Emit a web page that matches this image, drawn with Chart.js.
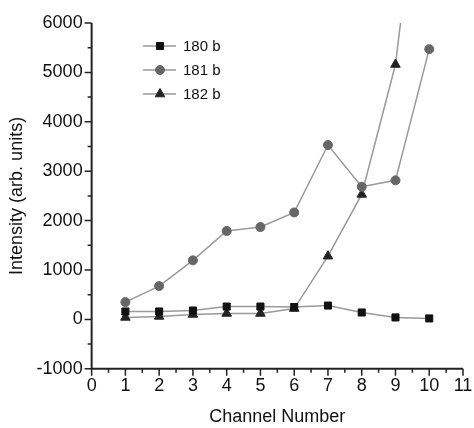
<!DOCTYPE html>
<html>
<head>
<meta charset="utf-8">
<script src="https://cdn.jsdelivr.net/npm/chart.js@4/dist/chart.umd.min.js"></script>
<style>
  html, body { margin: 0; padding: 0; background: #fff; }
  #wrap { width: 474px; height: 428px; }
</style>
</head>
<body>
<div id="wrap"><canvas id="chart"></canvas></div>
<script>
const channels = [1, 2, 3, 4, 5, 6, 7, 8, 9, 10];
const series180 = [160, 160, 180, 260, 260, 250, 280, 140, 40, 20];
const series181 = [350, 675, 1195, 1790, 1870, 2165, 3530, 2685, 2815, 5470];
const series182 = [40, 60, 100, 120, 120, 220, 1280, 2530, 5160, 10800];
const seriesLabels = ["180 b", "181 b", "182 b"];
const xTicks = [0, 1, 2, 3, 4, 5, 6, 7, 8, 9, 10, 11];
const yTicks = [-1000, 0, 1000, 2000, 3000, 4000, 5000, 6000];

const font = "'Liberation Sans', Arial, sans-serif";
const toPoints = values => values.map((y, i) => ({ x: channels[i], y }));

// axis lines + major/minor ticks drawn outward, plus the inset legend
const axesPlugin = {
  id: "axesPlugin",
  afterDraw(chart) {
    const { ctx, chartArea: area, scales: { x, y } } = chart;
    ctx.save();
    ctx.strokeStyle = "#222";
    ctx.lineWidth = 2;
    ctx.beginPath();
    ctx.moveTo(area.left, area.top);
    ctx.lineTo(area.left, area.bottom);
    ctx.lineTo(area.right, area.bottom);
    ctx.stroke();

    ctx.lineWidth = 1.5;
    ctx.beginPath();
    for (let v = -1000; v <= 6000; v += 500) {
      const py = y.getPixelForValue(v);
      const len = v % 1000 === 0 ? 7 : 4;
      ctx.moveTo(area.left, py);
      ctx.lineTo(area.left - len, py);
    }
    for (let v = 0; v <= 11; v += 0.5) {
      const px = x.getPixelForValue(v);
      const len = Number.isInteger(v) ? 7 : 4;
      ctx.moveTo(px, area.bottom);
      ctx.lineTo(px, area.bottom + len);
    }
    ctx.stroke();

    // legend
    chart.data.datasets.forEach((ds, i) => {
      const ly = 46 + i * 24;
      ctx.strokeStyle = ds.borderColor;
      ctx.lineWidth = 1.5;
      ctx.beginPath();
      ctx.moveTo(143, ly);
      ctx.lineTo(176, ly);
      ctx.stroke();
      ctx.fillStyle = ds.pointBackgroundColor;
      ctx.strokeStyle = ds.pointBorderColor;
      ctx.lineWidth = 1;
      Chart.helpers.drawPoint(ctx, {
        pointStyle: ds.pointStyle,
        radius: ds.pointRadius,
        borderWidth: 1
      }, 160, ly);
      ctx.fillStyle = "#111";
      ctx.font = "15px " + font;
      ctx.textBaseline = "middle";
      ctx.fillText(ds.label, 183, ly + 1);
    });
    ctx.restore();
  }
};

const makeSet = (label, values, style, color, radius) => ({
  label,
  data: toPoints(values),
  borderColor: "#999",
  borderWidth: 1.5,
  pointStyle: style,
  pointRadius: radius,
  pointBackgroundColor: color,
  pointBorderColor: color,
  pointBorderWidth: 1,
  tension: 0
});

new Chart(document.getElementById("chart"), {
  type: "line",
  data: {
    datasets: [
      makeSet(seriesLabels[0], series180, "rect", "#111", 5),
      makeSet(seriesLabels[1], series181, "circle", "#666", 4.5),
      makeSet(seriesLabels[2], series182, "triangle", "#222", 5.5)
    ]
  },
  options: {
    responsive: true,
    maintainAspectRatio: false,
    animation: false,
    layout: { padding: { top: 23, right: 0, left: 6, bottom: 0 } },
    plugins: { legend: { display: false }, tooltip: { enabled: false } },
    scales: {
      x: {
        type: "linear",
        min: 0,
        max: 11,
        afterBuildTicks: scale => { scale.ticks = xTicks.map(value => ({ value })); },
        afterFit: scale => { scale.paddingRight = 11; },
        grid: { display: false, drawTicks: false },
        border: { display: false },
        ticks: { color: "#111", padding: 6, font: { size: 18, family: font }, callback: v => String(v) },
        title: { display: true, text: "Channel Number", color: "#111", padding: { top: 4, bottom: 0 }, font: { size: 18, family: font } }
      },
      y: {
        min: -1000,
        max: 6000,
        afterBuildTicks: scale => { scale.ticks = yTicks.map(value => ({ value })); },
        grid: { display: false, drawTicks: false },
        border: { display: false },
        ticks: { color: "#111", padding: 9, font: { size: 18, family: font }, callback: v => String(v) },
        title: { display: true, text: "Intensity (arb. units)", color: "#111", padding: { top: 0, bottom: 0 }, font: { size: 18, family: font } }
      }
    }
  },
  plugins: [axesPlugin]
});
</script>
</body>
</html>
